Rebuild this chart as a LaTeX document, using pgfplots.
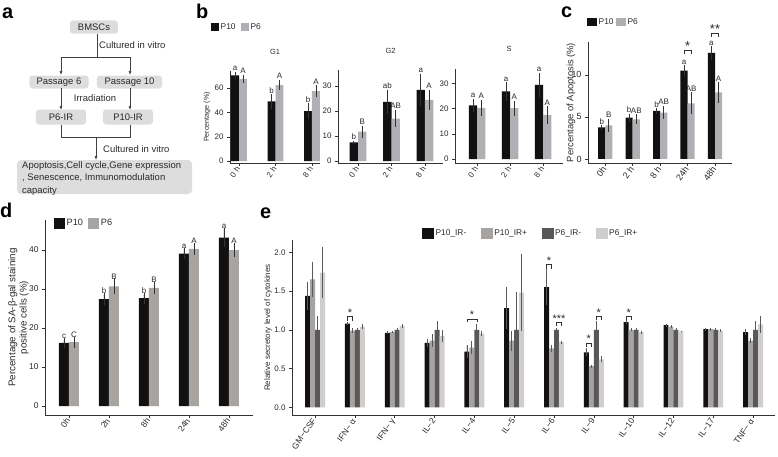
\documentclass[border=0pt]{standalone}
\usepackage{fontspec}
\setmainfont{Liberation Sans}
\usepackage{pgfplots}
\pgfplotsset{compat=1.18}
\usetikzlibrary{arrows.meta}

\definecolor{blk}{HTML}{111111}
\definecolor{bg}{HTML}{AEB0B4}
\definecolor{dg}{HTML}{A8A4A2}
\definecolor{eA}{HTML}{A6A3A1}
\definecolor{eB}{HTML}{5A5758}
\definecolor{eC}{HTML}{D0CECD}
\definecolor{txt}{HTML}{2A2A2A}
\definecolor{boxg}{HTML}{DDDDDD}

\newcommand{\fs}[1]{\fontsize{#1}{#1}\selectfont}
% letter above a bar
\newcommand{\lt}[3]{\node[font=\fs{8}, anchor=south, inner sep=0.8bp, text=txt] at (axis cs:#1,#2) {#3};}
% significance bracket: x1, x2, top, drop, stars, font size
\newcommand{\sig}[6]{%
  \draw[black!80, line width=0.6bp] (axis cs:#1,#3-#4) -- (axis cs:#1,#3) -- (axis cs:#2,#3) -- (axis cs:#2,#3-#4);
  \node[font=\fs{#6}, anchor=base, inner sep=0pt, text=txt] at (axis cs:{(#1+#2)/2},#3) {#5};}

\pgfplotsset{
  gg/.style={
    anchor=south west, scale only axis, clip=false,
    axis x line*=bottom, axis y line*=left,
    axis line style={black!80, line width=0.6bp},
    every tick/.style={black!80, line width=0.6bp},
    major tick length=3bp, tick align=outside,
    /pgf/number format/assume math mode=true,
    tick label style={font=\fs{8}, text=txt},
    xticklabel style={rotate=55, anchor=east, inner sep=1.5bp},
    legend style={draw=none, fill=none, inner sep=0pt, legend columns=-1,
      nodes={inner sep=1.5bp, text=txt}},
  },
  eb/.style={/pgfplots/error bars/y dir=both, /pgfplots/error bars/y explicit,
    /pgfplots/error bars/error mark=none,
    /pgfplots/error bars/error bar style={draw=black!80, line width=0.8bp}},
  % bars are placed at their own x (group position + offset), so error bars line up
  br/.style 2 args={ybar, bar width=#1, bar shift=0pt, fill=#2, draw=none, eb},
}

\begin{document}
\begin{tikzpicture}
\path[use as bounding box] (0,0) rectangle (778bp,-457bp);

% panel letters
\node[font=\fs{20}\bfseries, anchor=base west, inner sep=0pt] at (2bp,-18bp) {a};
\node[font=\fs{20}\bfseries, anchor=base west, inner sep=0pt] at (196bp,-18bp) {b};
\node[font=\fs{20}\bfseries, anchor=base west, inner sep=0pt] at (561bp,-17bp) {c};
\node[font=\fs{20}\bfseries, anchor=base west, inner sep=0pt] at (0bp,-217bp) {d};
\node[font=\fs{20}\bfseries, anchor=base west, inner sep=0pt] at (260bp,-218bp) {e};

% ---- a: flow chart
\begin{scope}[x=1bp, y=-1bp, font=\fs{9.5}, text=txt]
  \tikzset{fb/.style={fill=boxg, rounded corners=3bp, inner sep=0pt, minimum height=13bp},
           ln/.style={draw=black!75, line width=0.6bp},
           ar/.style={ln, -{Latex[length=4bp, width=3bp]}}}
  \node[fb, minimum width=48bp] at (94,27) {BMSCs};
  \draw[ln] (97,34) -- (97,57);
  \draw[ln] (61,57) -- (130,57);
  \draw[ar] (61,57) -- (61,75);
  \draw[ar] (130,57) -- (130,75);
  \node[anchor=west, inner sep=0pt] at (99,45) {Cultured in vitro};
  \node[fb, minimum width=59bp] at (59,82) {Passage 6};
  \node[fb, minimum width=65bp] at (129.5,82) {Passage 10};
  \draw[ar] (61,88) -- (61,110);
  \draw[ar] (130,88) -- (130,110);
  \node[inner sep=0pt] at (95,98) {Irradiation};
  \node[fb, minimum width=50bp, minimum height=15bp] at (61,117) {P6-IR};
  \node[fb, minimum width=50bp, minimum height=15bp] at (128,117) {P10-IR};
  \draw[ln] (61,125) -- (61,137) -- (130,137) -- (130,125);
  \draw[ar] (96,137) -- (96,160);
  \node[anchor=west, inner sep=0pt] at (103,149) {Cultured in vitro};
  \fill[boxg, rounded corners=4bp] (17,160) rectangle (192,194);
  \node[anchor=north west, align=left, inner sep=0pt, font=\fontsize{9.5}{12.3}\selectfont] at (22,161.5)
    {Apoptosis,Cell cycle,Gene expression\\, Senescence, Immunomodulation\\capacity};
\end{scope}

% ---- b: G1
\begin{axis}[gg, at={(230bp,-163bp)}, width=90bp, height=92bp,
  xmin=-0.25, xmax=2.22, ymin=-1.5, ymax=74,
  xtick={0,1,2}, xticklabels={0 h,2 h,8 h}, ytick={0,20,40,60},
  ylabel={Percentage (\%)},
  every axis y label/.style={at={(rel axis cs:0,0.5)}, xshift=-23bp, rotate=90, anchor=center, font=\fs{7.2}, text=txt},
  legend style={at={(-0.211,1.478)}, anchor=west, font=\fs{8.4},
    /tikz/every even column/.append style={column sep=4bp}},
  legend image code/.code={\fill[#1] (0bp,-4bp) rectangle (8bp,4bp);},
]
\addplot[br={0.216}{blk}] coordinates {(-0.108,70.5) +- (0,3) (0.892,49) +- (0,6) (1.892,41) +- (0,6.5)};
\addlegendentry{P10}
\addplot[br={0.216}{bg}] coordinates {(0.108,67.5) +- (0,3.5) (1.108,62.5) +- (0,4.5) (2.108,57.5) +- (0,5)};
\addlegendentry{P6}
\lt{-0.108}{73.5}{a}\lt{0.892}{55}{b}\lt{1.892}{47.5}{b}
\lt{0.108}{71}{A}\lt{1.108}{67}{A}\lt{2.108}{62.5}{A}
\node[font=\fs{7.5}, anchor=base, text=txt] at (rel axis cs:0.5,1) [yshift=16bp] {G1};
\end{axis}

% ---- b: G2
\begin{axis}[gg, at={(338bp,-163bp)}, width=105bp, height=93bp,
  xmin=-0.6, xmax=2.54, ymin=-0.8, ymax=36.4,
  xtick={0,1,2}, xticklabels={0 h,2 h,8 h}, ytick={0,10,20,30},
]
\addplot[br={0.25}{blk}] coordinates {(-0.125,7.5) +- (0,0.5) (0.875,23.7) +- (0,4.7) (1.875,28.5) +- (0,6.5)};
\addplot[br={0.25}{bg}] coordinates {(0.125,11.8) +- (0,2.4) (1.125,17) +- (0,3.5) (2.125,24.5) +- (0,4)};
\lt{-0.125}{8}{b}\lt{0.875}{28.4}{ab}\lt{1.875}{35}{a}
\lt{0.125}{14.2}{B}\lt{1.125}{20.5}{AB}\lt{2.125}{28.5}{A}
\node[font=\fs{7.5}, anchor=base, text=txt] at (rel axis cs:0.5,1) [yshift=17bp] {G2};
\end{axis}

% ---- b: S
\begin{axis}[gg, at={(455bp,-163bp)}, width=108bp, height=94bp,
  xmin=-0.67, xmax=2.6, ymin=-1.5, ymax=35.7,
  xtick={0,1,2}, xticklabels={0 h,2 h,8 h}, ytick={0,10,20,30},
]
\addplot[br={0.25}{blk}] coordinates {(-0.125,21.3) +- (0,2.5) (0.875,26.8) +- (0,3.7) (1.875,29.4) +- (0,4.8)};
\addplot[br={0.25}{bg}] coordinates {(0.125,20.3) +- (0,3.3) (1.125,20.2) +- (0,3) (2.125,17.5) +- (0,3.5)};
\lt{-0.125}{23.8}{a}\lt{0.875}{30.5}{a}\lt{1.875}{34.2}{a}
\lt{0.125}{23.6}{A}\lt{1.125}{23.2}{A}\lt{2.125}{21}{A}
\node[font=\fs{7.5}, anchor=base, text=txt] at (rel axis cs:0.5,1) [yshift=18bp] {S};
\end{axis}

% ---- c: apoptosis
\begin{axis}[gg, at={(588bp,-163bp)}, width=144bp, height=121bp,
  xmin=-0.63, xmax=4.62, ymin=-0.48, ymax=13.9,
  xtick={0,...,4}, xticklabels={0h,2 h,8 h,24h,48h}, ytick={0,5,10},
  tick label style={font=\fs{9}},
  ylabel={Percentage of Apoptosis (\%)},
  every axis y label/.style={at={(rel axis cs:0,0.5)}, xshift=-17bp, rotate=90, anchor=center, font=\fs{9.4}, text=txt},
  legend style={at={(-0.007,1.165)}, anchor=west, font=\fs{8.4},
    /tikz/every even column/.append style={column sep=1bp}},
  legend image code/.code={\fill[#1] (0bp,-4bp) rectangle (10bp,4bp);},
]
\addplot[br={0.26}{blk}] coordinates {(-0.13,3.75) +- (0,0.25) (0.87,4.9) +- (0,0.45) (1.87,5.7) +- (0,0.3) (2.87,10.5) +- (0,0.65) (3.87,12.6) +- (0,0.8)};
\addlegendentry{P10}
\addplot[br={0.26}{bg}] coordinates {(0.13,4.0) +- (0,0.75) (1.13,4.7) +- (0,0.6) (2.13,5.5) +- (0,0.8) (3.13,6.6) +- (0,1.3) (4.13,7.9) +- (0,1.2)};
\addlegendentry{P6}
\lt{-0.13}{4.0}{b}\lt{0.87}{5.35}{b}\lt{1.87}{6.0}{b}\lt{2.87}{11.15}{a}\lt{3.87}{13.4}{a}
\lt{0.13}{4.75}{B}\lt{1.13}{5.3}{AB}\lt{2.13}{6.3}{AB}\lt{3.13}{7.9}{AB}\lt{4.13}{9.1}{A}
\sig{2.87}{3.13}{12.9}{0.4}{*}{13}
\sig{3.87}{4.13}{14.95}{0.4}{**}{13}
\end{axis}

% ---- d: SA-beta-gal
\begin{axis}[gg, at={(45bp,-415bp)}, width=208bp, height=195bp,
  xmin=-0.6, xmax=4.6, ymin=-2.3, ymax=47.7,
  xtick={0,...,4}, xticklabels={0h,2h,8h,24h,48h}, ytick={0,10,20,30,40},
  tick label style={font=\fs{8.5}},
  ylabel={Percentage of SA-β-gal staining\\positive cells (\%)},
  every axis y label/.style={at={(rel axis cs:0,0.5)}, xshift=-26.5bp, rotate=90, anchor=center, align=center,
    font=\fontsize{9.8}{11.3}\selectfont, text=txt},
  legend style={at={(0.043,0.982)}, anchor=west, font=\fs{9.2},
    /tikz/every even column/.append style={column sep=4bp}},
  legend image code/.code={\fill[#1] (0bp,-5.5bp) rectangle (11bp,5.5bp);},
]
\addplot[br={0.25}{blk}, /pgfplots/error bars/error mark=-,
  /pgfplots/error bars/error mark options={black!80, line width=0.7bp, mark size=1.6bp}]
  coordinates {(-0.125,16.2) +- (0,0.8) (0.875,27.4) +- (0,1.2) (1.875,27.7) +- (0,1.0) (2.875,39.1) +- (0,1.1) (3.875,43.2) +- (0,2.0)};
\addlegendentry{P10}
\addplot[br={0.25}{dg}, /pgfplots/error bars/error mark=-,
  /pgfplots/error bars/error mark options={black!80, line width=0.7bp, mark size=1.6bp}]
  coordinates {(0.125,16.4) +- (0,1.0) (1.125,30.7) +- (0,1.6) (2.125,30.3) +- (0,1.2) (3.125,40.3) +- (0,1.1) (4.125,40.0) +- (0,1.5)};
\addlegendentry{P6}
\lt{-0.125}{17.0}{c}\lt{0.875}{28.6}{b}\lt{1.875}{28.7}{b}\lt{2.875}{40.2}{a}\lt{3.875}{45.2}{a}
\lt{0.125}{17.4}{C}\lt{1.125}{32.3}{B}\lt{2.125}{31.5}{B}\lt{3.125}{41.4}{A}\lt{4.125}{41.5}{A}
\end{axis}

% ---- e: cytokines
\begin{axis}[gg, at={(292bp,-415bp)}, width=483bp, height=175bp,
  xmin=-0.58, xmax=11.55, ymin=-0.1, ymax=2.16,
  xtick={0,...,11},
  xticklabels={GM−CSF,IFN− α,IFN− γ,IL−2,IL−4,IL−5,IL−6,IL−9,IL−10,IL−12,IL−17,TNF− α},
  xticklabel style={font=\fs{8.5}},
  ytick={0,0.5,1,1.5,2},
  yticklabel style={/pgf/number format/.cd, fixed, fixed zerofill, precision=1},
  ylabel={Relative secretory level of cytokines},
  every axis y label/.style={at={(rel axis cs:0,0.5)}, xshift=-24bp, rotate=90, anchor=center, font=\fs{8}, text=txt},
  legend style={at={(0.269,1.037)}, anchor=west, font=\fs{8.4},
    /tikz/every even column/.append style={column sep=13bp}},
  legend image code/.code={\fill[#1] (0bp,-5.5bp) rectangle (12bp,5.5bp);},
]
\addplot[br={0.125}{blk}, /pgfplots/error bars/error bar style={draw=black!65}] coordinates {
 (-0.1875,1.44) +- (0,0.18) (0.8125,1.08) +- (0,0.02) (1.8125,0.96) +- (0,0.02) (2.8125,0.83) +- (0,0.05)
 (3.8125,0.72) +- (0,0.08) (4.8125,1.28) +- (0,0.27) (5.8125,1.55) +- (0,0.23) (6.8125,0.71) +- (0,0.05)
 (7.8125,1.10) +- (0,0.03) (8.8125,1.06) +- (0,0.02) (9.8125,1.01) +- (0,0.02) (10.8125,0.97) +- (0,0.04)};
\addlegendentry{P10\_IR-}
\addplot[br={0.125}{eA}, /pgfplots/error bars/error bar style={draw=black!65}] coordinates {
 (-0.0625,1.65) +- (0,0.23) (0.9375,0.99) +- (0,0.03) (1.9375,0.97) +- (0,0.01) (2.9375,0.86) +- (0,0.08)
 (3.9375,0.77) +- (0,0.08) (4.9375,0.86) +- (0,0.13) (5.9375,0.76) +- (0,0.05) (6.9375,0.53) +- (0,0.02)
 (7.9375,1.00) +- (0,0.02) (8.9375,1.04) +- (0,0.02) (9.9375,1.01) +- (0,0.02) (10.9375,0.86) +- (0,0.03)};
\addlegendentry{P10\_IR+}
\addplot[br={0.125}{eB}, /pgfplots/error bars/error bar style={draw=black!65}] coordinates {
 (0.0625,1.00) +- (0,0.18) (1.0625,1.00) +- (0,0.03) (2.0625,1.00) +- (0,0.03) (3.0625,1.00) +- (0,0.11)
 (4.0625,1.00) +- (0,0.07) (5.0625,1.00) +- (0,0.49) (6.0625,1.00) +- (0,0.03) (7.0625,1.00) +- (0,0.12)
 (8.0625,1.00) +- (0,0.03) (9.0625,1.00) +- (0,0.02) (10.0625,1.00) +- (0,0.02) (11.0625,1.00) +- (0,0.11)};
\addlegendentry{P6\_IR-}
\addplot[br={0.125}{eC}, /pgfplots/error bars/error bar style={draw=black!65}] coordinates {
 (0.1875,1.74) +- (0,0.33) (1.1875,1.04) +- (0,0.03) (2.1875,1.05) +- (0,0.03) (3.1875,0.92) +- (0,0.08)
 (4.1875,0.95) +- (0,0.03) (5.1875,1.48) +- (0,0.50) (6.1875,0.84) +- (0,0.02) (7.1875,0.62) +- (0,0.04)
 (8.1875,0.97) +- (0,0.02) (9.1875,0.98) +- (0,0.01) (10.1875,0.99) +- (0,0.02) (11.1875,1.07) +- (0,0.11)};
\addlegendentry{P6\_IR+}
\sig{0.8125}{0.9375}{1.17}{0.06}{*}{11}
\sig{3.8125}{4.0625}{1.14}{0.04}{*}{11}
\sig{5.8125}{5.9375}{1.84}{0.05}{*}{11}
\sig{6.0625}{6.1875}{1.095}{0.04}{***}{11}
\sig{6.8125}{6.9375}{0.83}{0.05}{*}{11}
\sig{7.0625}{7.1875}{1.17}{0.04}{*}{11}
\sig{7.8125}{7.9375}{1.17}{0.04}{*}{11}
\end{axis}
\end{tikzpicture}
\end{document}
